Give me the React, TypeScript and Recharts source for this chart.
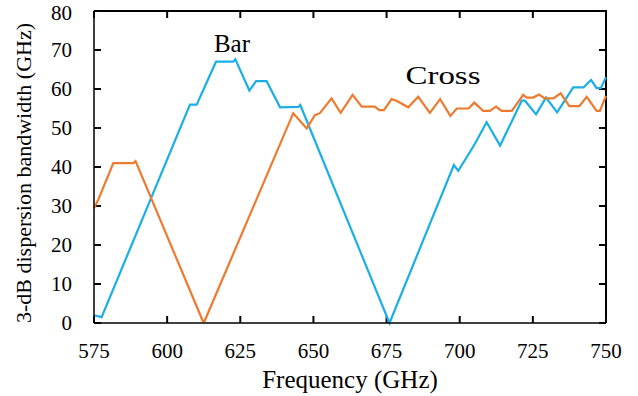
import { LineChart, Line, XAxis, YAxis } from 'recharts'

// blue trace, "Bar" port
const barFreq = [575, 577.6, 607.8, 610.1, 616.7, 622.6, 623.3, 628.1, 630.4, 634, 638.6, 644.8, 645.5, 676, 698, 699.5, 704.6, 705.8, 709.2, 713.8, 721.2, 722.3, 726.1, 729.5, 733.3, 738.8, 742.3, 744.9, 746.8, 748.2, 750]
const barBw = [2, 1.5, 56, 56, 67, 67, 67.6, 59.6, 62, 62, 55.3, 55.4, 55.9, 0, 40.5, 39, 45.2, 46.8, 51.5, 45.5, 57, 57, 53.5, 57.8, 54, 60.4, 60.4, 62.3, 60.2, 60.2, 63]

// orange trace, "Cross" port
const crossFreq = [575, 576.5, 581.6, 588.5, 589.2, 612.2, 612.8, 643.1, 647.7, 650.5, 652.2, 656.2, 659.3, 663.4, 666.5, 671, 672.5, 674.1, 676.7, 678.4, 682.4, 685.8, 689.8, 693.3, 696.8, 699, 703, 705, 708, 710.3, 712.4, 714.3, 717.8, 721.7, 722.9, 725.1, 727.1, 729.1, 732, 734.5, 737.5, 740.9, 743.4, 746.8, 747.9, 750]
const crossBw = [29.4, 31.7, 41, 41, 41.5, 0.5, 0.5, 53.8, 49.9, 53.3, 53.8, 57.6, 53.9, 58.5, 55.5, 55.5, 54.6, 54.6, 57.4, 57, 55.3, 58, 53.9, 57.4, 53.1, 55, 55, 56.5, 54.4, 54.4, 55.5, 54.4, 54.4, 58.5, 57.8, 57.8, 58.6, 57.6, 57.6, 58.9, 55.6, 55.6, 58, 54.4, 54.4, 58.2]

const xTicks = [575, 600, 625, 650, 675, 700, 725, 750]
const yTicks = [0, 10, 20, 30, 40, 50, 60, 70, 80]

const X0 = 575, X1 = 750, Y0 = 0, Y1 = 80
// inward tick length in data units (~7px)
const TX = 2.4, TY = 1.8

const barData = barFreq.map((f, i) => ({ f, v: barBw[i] }))
const crossData = crossFreq.map((f, i) => ({ f, v: crossBw[i] }))

// top + right border of the box
const frameData = [{ f: X0, v: Y1 }, { f: X1, v: Y1 }, { f: X1, v: Y0 }]
// inward tick marks on all four sides, separated by gaps
const tickData: { f: number; v: number | null }[] = []
xTicks.forEach((t) => {
  tickData.push({ f: t, v: Y0 }, { f: t, v: Y0 + TY }, { f: t, v: null })
  tickData.push({ f: t, v: Y1 }, { f: t, v: Y1 - TY }, { f: t, v: null })
})
yTicks.forEach((t) => {
  tickData.push({ f: X0, v: t }, { f: X0 + TX, v: t }, { f: X0, v: null })
  tickData.push({ f: X1, v: t }, { f: X1 - TX, v: t }, { f: X1, v: null })
})

const PL = 94, PT = 11, PW = 512, PH = 312

const serif = 'Liberation Serif, Times New Roman, serif'
const tickStyle = { fontSize: 21, fill: '#000', fontFamily: serif }
const txt = { fontFamily: serif, fill: '#000' }
const black = { stroke: '#000', strokeWidth: 1.5 }

export default function App() {
  return (
    <div style={{ width: 638, height: 396, background: '#fff' }}>
      <style>{'body{margin:0}'}</style>
      <LineChart width={638} height={396} margin={{ top: PT, right: 638 - PL - PW, left: 0, bottom: 0 }}>
        <XAxis
          dataKey="f"
          type="number"
          domain={[X0, X1]}
          ticks={xTicks}
          height={396 - PT - PH}
          tick={tickStyle}
          tickLine={false}
          tickMargin={14}
          axisLine={black}
        />
        <YAxis
          type="number"
          domain={[Y0, Y1]}
          ticks={yTicks}
          width={PL}
          tick={tickStyle}
          tickLine={false}
          tickMargin={16}
          axisLine={black}
        />
        <Line data={frameData} dataKey="v" type="linear" stroke="#000000" strokeWidth={2} dot={false} isAnimationActive={false} />
        <Line data={tickData} dataKey="v" type="linear" stroke="#050505" strokeWidth={2} dot={false} isAnimationActive={false} />
        <Line data={barData} dataKey="v" type="linear" stroke="#1AAFE6" strokeWidth={2.2} dot={false} isAnimationActive={false} />
        <Line data={crossData} dataKey="v" type="linear" stroke="#EE7A30" strokeWidth={2.2} dot={false} isAnimationActive={false} />
        <text x={232} y={52} textAnchor="middle" fontSize={25} style={txt}>Bar</text>
        <text x={443} y={84} textAnchor="middle" fontSize={25} style={txt} textLength={75} lengthAdjust="spacingAndGlyphs">Cross</text>
        <text x={350} y={388} textAnchor="middle" fontSize={25} style={txt}>Frequency (GHz)</text>
        <text transform="translate(31,173) rotate(-90)" textAnchor="middle" fontSize={22} style={txt}>3-dB dispersion bandwidth (GHz)</text>
      </LineChart>
    </div>
  )
}
